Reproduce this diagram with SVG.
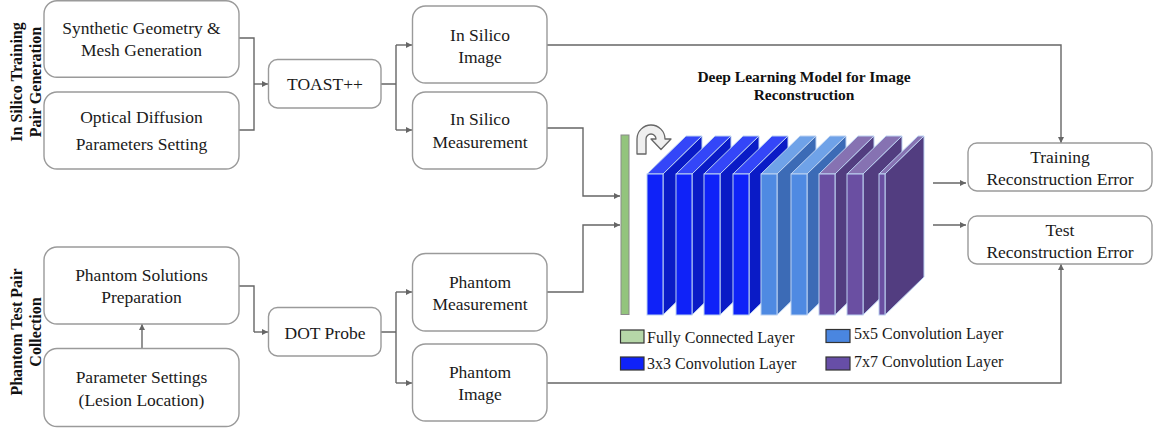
<svg xmlns="http://www.w3.org/2000/svg" width="1156" height="432" viewBox="0 0 1156 432">
<style>
.box{fill:#fff;stroke:#9a9a9a;stroke-width:1.4}
.t{font-family:"Liberation Serif","Times New Roman",serif;font-size:17.5px;fill:#1a1a1a;text-anchor:middle;dominant-baseline:central}
.lg{font-family:"Liberation Serif","Times New Roman",serif;font-size:16px;fill:#1a1a1a;dominant-baseline:central}
.b{font-family:"Liberation Serif","Times New Roman",serif;font-size:16px;font-weight:bold;fill:#111;text-anchor:middle;dominant-baseline:central}
.c{fill:none;stroke:#666;stroke-width:1.4}
.a{fill:none;stroke:#666;stroke-width:1.4;marker-end:url(#ah)}
.sl{stroke:#bcd2f2;stroke-width:1}
.b3f{fill:#0f22f8}.b3s{fill:#0a1bc6}.b3t{fill:#3446f8}
.b5f{fill:#4f8ae2}.b5s{fill:#3c6bb6}.b5t{fill:#6fa2e8}
.b7f{fill:#6a4fa2}.b7s{fill:#523d80}.b7t{fill:#8672b2}
.sw{stroke:#333;stroke-width:1.2}
</style>
<defs>
<marker id="ah" viewBox="0 0 10 10" refX="10" refY="5" markerWidth="6" markerHeight="6" markerUnits="userSpaceOnUse" orient="auto">
<path d="M0,0 L10,5 L0,10 z" fill="#666"/>
</marker>
</defs>
<rect width="1156" height="432" fill="#fff"/>

<g id="label-insilico">
<text class="b" transform="translate(16,82) rotate(-90)">In Silico Training</text>
<text class="b" transform="translate(35,82) rotate(-90)">Pair Generation</text>
</g>
<g id="label-phantom">
<text class="b" transform="translate(16,332) rotate(-90)">Phantom Test Pair</text>
<text class="b" transform="translate(35,332) rotate(-90)">Collection</text>
</g>

<g id="connectors">
<path class="c" d="M239,38 H254 V130 H239"/>
<path class="a" d="M254,84 H268"/>
<path class="c" d="M381,84 H396 M396,45 V130"/>
<path class="a" d="M396,45 H412"/>
<path class="a" d="M396,130 H412"/>
<path class="a" d="M547,45 H1061 V143"/>
<path class="a" d="M547,128 H583 V196 H620"/>
<path class="c" d="M239,286 H254 V332"/>
<path class="a" d="M254,332 H268"/>
<path class="a" d="M142,348 V324"/>
<path class="c" d="M381,332 H396 M396,292 V383"/>
<path class="a" d="M396,292 H412"/>
<path class="a" d="M396,383 H412"/>
<path class="a" d="M547,292 H583 V225 H620"/>
<path class="a" d="M547,383 H1061 V264"/>
<path class="a" d="M933,183 H966"/>
<path class="a" d="M933,225 H966"/>
</g>

<g id="synthetic-geometry">
<rect class="box" x="44" y="0.7" width="195" height="76.5" rx="13"/>
<text class="t" x="141.5" y="27.5">Synthetic Geometry &amp;</text>
<text class="t" x="141.5" y="49.5">Mesh Generation</text>
</g>
<g id="optical-diffusion">
<rect class="box" x="44" y="92" width="195" height="77" rx="13"/>
<text class="t" x="141.5" y="117">Optical Diffusion</text>
<text class="t" x="141.5" y="144">Parameters  Setting</text>
</g>
<g id="toast">
<rect class="box" x="268.5" y="59.5" width="112.5" height="48.5" rx="9"/>
<text class="t" x="325" y="84">TOAST++</text>
</g>
<g id="insilico-image">
<rect class="box" x="412.5" y="6" width="134.5" height="77" rx="13"/>
<text class="t" x="480" y="34.5">In Silico</text>
<text class="t" x="480" y="56.5">Image</text>
</g>
<g id="insilico-measurement">
<rect class="box" x="412.5" y="92" width="134.5" height="77" rx="13"/>
<text class="t" x="480" y="119">In Silico</text>
<text class="t" x="480" y="141.5">Measurement</text>
</g>
<g id="phantom-solutions">
<rect class="box" x="44" y="247" width="195" height="77" rx="13"/>
<text class="t" x="141.5" y="275">Phantom Solutions</text>
<text class="t" x="141.5" y="297">Preparation</text>
</g>
<g id="parameter-settings">
<rect class="box" x="44" y="348.5" width="195" height="78" rx="13"/>
<text class="t" x="141.5" y="377">Parameter Settings</text>
<text class="t" x="141.5" y="400">(Lesion Location)</text>
</g>
<g id="dot-probe">
<rect class="box" x="268.5" y="307.5" width="112.5" height="48.5" rx="9"/>
<text class="t" x="325" y="332.5">DOT Probe</text>
</g>
<g id="phantom-measurement">
<rect class="box" x="412.5" y="253.5" width="134.5" height="77.5" rx="13"/>
<text class="t" x="480" y="282">Phantom</text>
<text class="t" x="480" y="304">Measurement</text>
</g>
<g id="phantom-image">
<rect class="box" x="412.5" y="344" width="134.5" height="77" rx="13"/>
<text class="t" x="480" y="372">Phantom</text>
<text class="t" x="480" y="394">Image</text>
</g>
<g id="training-error">
<rect class="box" x="968" y="143" width="184" height="48" rx="9"/>
<text class="t" x="1060" y="157">Training</text>
<text class="t" x="1060" y="178.5">Reconstruction Error</text>
</g>
<g id="test-error">
<rect class="box" x="968" y="216" width="184" height="48" rx="9"/>
<text class="t" x="1060" y="229.5">Test</text>
<text class="t" x="1060" y="251.5">Reconstruction Error</text>
</g>

<g id="deep-learning-model">
<text class="b" x="804" y="76" style="font-size:15.5px">Deep Learning Model for Image</text>
<text class="b" x="804" y="94" style="font-size:15.5px">Reconstruction</text>
<rect x="621" y="135" width="8" height="179.5" fill="#93c47d" stroke="#8a8a8a" stroke-width="1"/>
<path d="M637,154 V139 A14,14 0 0 1 665,139 H671 L661,149.5 L651,139 H656 A5,5 0 0 0 646,139 V154 Z" fill="#efefef" stroke="#666" stroke-width="1.3" stroke-linejoin="round"/>
<g id="layer1" class="sl">
<polygon class="b3t" points="647,174 663,174 702,136 686,136"/>
<polygon class="b3s" points="663,174 702,136 702,277 663,315"/>
<rect class="b3f" x="647" y="174" width="16" height="141"/>
</g>
<g id="layer2" class="sl">
<polygon class="b3t" points="676,174 692,174 731,136 715,136"/>
<polygon class="b3s" points="692,174 731,136 731,277 692,315"/>
<rect class="b3f" x="676" y="174" width="16" height="141"/>
</g>
<g id="layer3" class="sl">
<polygon class="b3t" points="704,174 720,174 759,136 743,136"/>
<polygon class="b3s" points="720,174 759,136 759,277 720,315"/>
<rect class="b3f" x="704" y="174" width="16" height="141"/>
</g>
<g id="layer4" class="sl">
<polygon class="b3t" points="733,174 749,174 788,136 772,136"/>
<polygon class="b3s" points="749,174 788,136 788,277 749,315"/>
<rect class="b3f" x="733" y="174" width="16" height="141"/>
</g>
<g id="layer5" class="sl">
<polygon class="b5t" points="761,174 777,174 816,136 800,136"/>
<polygon class="b5s" points="777,174 816,136 816,277 777,315"/>
<rect class="b5f" x="761" y="174" width="16" height="141"/>
</g>
<g id="layer6" class="sl">
<polygon class="b5t" points="791,174 807,174 846,136 830,136"/>
<polygon class="b5s" points="807,174 846,136 846,277 807,315"/>
<rect class="b5f" x="791" y="174" width="16" height="141"/>
</g>
<g id="layer7" class="sl">
<polygon class="b7t" points="819,174 835,174 874,136 858,136"/>
<polygon class="b7s" points="835,174 874,136 874,277 835,315"/>
<rect class="b7f" x="819" y="174" width="16" height="141"/>
</g>
<g id="layer8" class="sl">
<polygon class="b7t" points="847,174 863,174 902,136 886,136"/>
<polygon class="b7s" points="863,174 902,136 902,277 863,315"/>
<rect class="b7f" x="847" y="174" width="16" height="141"/>
</g>
<g id="layer9" class="sl">
<polygon class="b7t" points="879,174 885,174 924,136 918,136"/>
<polygon class="b7s" points="885,174 924,136 924,277 885,315"/>
<rect class="b7f" x="879" y="174" width="6" height="141"/>
</g>
</g>

<g id="legend">
<rect class="sw" x="620.5" y="330" width="23.5" height="13" fill="#b6d7a8"/>
<text class="lg" x="647" y="337">Fully Connected Layer</text>
<rect class="sw" x="620.5" y="357" width="23.5" height="13" fill="#0f22f8"/>
<text class="lg" x="647" y="363">3x3 Convolution Layer</text>
<rect class="sw" x="826" y="329.5" width="24" height="13" fill="#4a86e0"/>
<text class="lg" x="854" y="333">5x5 Convolution Layer</text>
<rect class="sw" x="826" y="357" width="24" height="13" fill="#674ea7"/>
<text class="lg" x="854" y="361">7x7 Convolution Layer</text>
</g>
</svg>
